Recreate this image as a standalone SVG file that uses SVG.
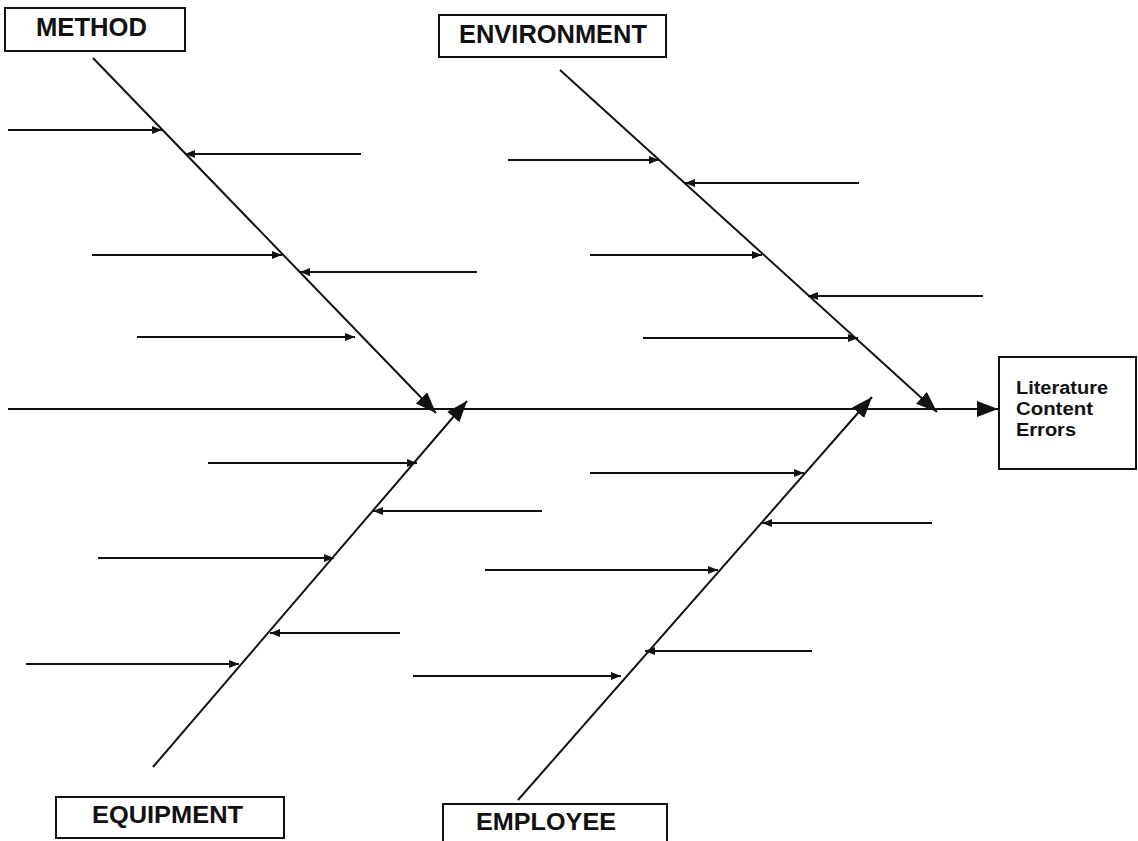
<svg xmlns="http://www.w3.org/2000/svg" width="1138" height="841" viewBox="0 0 1138 841">
<style>
.box{fill:#fff;stroke:#111;stroke-width:2}
.lbl{font-family:"Liberation Sans",Arial,sans-serif;font-weight:bold;fill:#111}
.ln{stroke:#111;stroke-width:2;fill:none}
.big{marker-end:url(#big)}
.sm{marker-end:url(#sm)}
</style>
<defs>
<marker id="big" markerUnits="userSpaceOnUse" markerWidth="24" markerHeight="18" refX="21" refY="8" orient="auto">
<path d="M0,0 L21,8 L0,16 z" fill="#111"/>
</marker>
<marker id="sm" markerUnits="userSpaceOnUse" markerWidth="12" markerHeight="9" refX="10" refY="4" orient="auto">
<path d="M0,0 L10,4 L0,8 z" fill="#111"/>
</marker>
</defs>
<rect width="1138" height="841" fill="#fff"/>
<g id="connectors">
<line class="ln big" x1="8" y1="409" x2="998" y2="409"/>
<line class="ln big" x1="93" y1="58" x2="436" y2="413"/>
<line class="ln big" x1="153" y1="767" x2="467" y2="401"/>
<line class="ln big" x1="560" y1="70" x2="937" y2="412"/>
<line class="ln big" x1="518" y1="800" x2="872" y2="397"/>
<line class="ln sm" x1="8" y1="130" x2="162" y2="130"/>
<line class="ln sm" x1="361" y1="154" x2="185" y2="154"/>
<line class="ln sm" x1="92" y1="255" x2="282" y2="255"/>
<line class="ln sm" x1="477" y1="272" x2="300" y2="272"/>
<line class="ln sm" x1="137" y1="337" x2="355" y2="337"/>
<line class="ln sm" x1="208" y1="463" x2="417" y2="463"/>
<line class="ln sm" x1="542" y1="511" x2="373" y2="511"/>
<line class="ln sm" x1="98" y1="558" x2="334" y2="558"/>
<line class="ln sm" x1="400" y1="633" x2="270" y2="633"/>
<line class="ln sm" x1="26" y1="664" x2="239" y2="664"/>
<line class="ln sm" x1="508" y1="160" x2="659" y2="160"/>
<line class="ln sm" x1="859" y1="183" x2="685" y2="183"/>
<line class="ln sm" x1="590" y1="255" x2="762" y2="255"/>
<line class="ln sm" x1="983" y1="296" x2="808" y2="296"/>
<line class="ln sm" x1="643" y1="338" x2="858" y2="338"/>
<line class="ln sm" x1="590" y1="473" x2="804" y2="473"/>
<line class="ln sm" x1="932" y1="523" x2="762" y2="523"/>
<line class="ln sm" x1="485" y1="570" x2="718" y2="570"/>
<line class="ln sm" x1="812" y1="651" x2="645" y2="651"/>
<line class="ln sm" x1="413" y1="676" x2="621" y2="676"/>
</g>
<g id="method">
<rect class="box" x="5" y="8" width="180" height="43"/>
<text class="lbl" x="36" y="36" font-size="25" textLength="111" lengthAdjust="spacingAndGlyphs">METHOD</text>
</g>
<g id="environment">
<rect class="box" x="439" y="15" width="227" height="42"/>
<text class="lbl" x="459" y="43" font-size="25" textLength="188" lengthAdjust="spacingAndGlyphs">ENVIRONMENT</text>
</g>
<g id="equipment">
<rect class="box" x="56" y="797" width="228" height="41"/>
<text class="lbl" x="92" y="823" font-size="23" textLength="151" lengthAdjust="spacingAndGlyphs">EQUIPMENT</text>
</g>
<g id="employee">
<rect class="box" x="443" y="804" width="224" height="45"/>
<text class="lbl" x="476" y="830" font-size="23" textLength="140" lengthAdjust="spacingAndGlyphs">EMPLOYEE</text>
</g>
<g id="result">
<rect class="box" x="999" y="357" width="137" height="112"/>
<text class="lbl" x="1016" y="394" font-size="17.5" textLength="92" lengthAdjust="spacingAndGlyphs">Literature</text>
<text class="lbl" x="1016" y="415" font-size="17.5" textLength="77" lengthAdjust="spacingAndGlyphs">Content</text>
<text class="lbl" x="1016" y="436" font-size="17.5" textLength="60" lengthAdjust="spacingAndGlyphs">Errors</text>
</g>
</svg>
